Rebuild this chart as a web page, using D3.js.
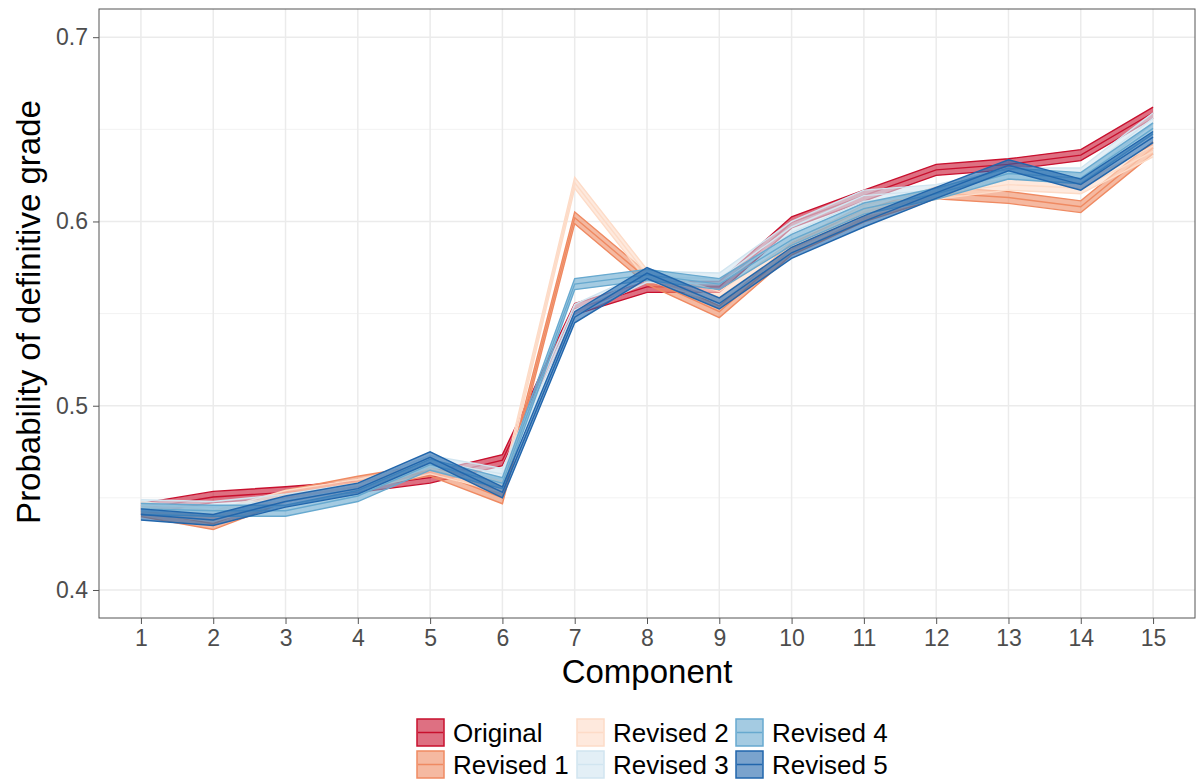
<!DOCTYPE html>
<html lang="en">
<head>
<meta charset="UTF-8">
<title>Probability of definitive grade</title>
<style>
    html, body { margin: 0; padding: 0; background: #fff; }
    text { font-family: "Liberation Sans", Arial, sans-serif; }
</style>
</head>
<body>
<div id="chart"></div>
<script src="https://d3js.org/d3.v7.min.js"></script>
<script>
// components on the x axis
const components = [1, 2, 3, 4, 5, 6, 7, 8, 9, 10, 11, 12, 13, 14, 15];
const seriesNames = ["Original", "Revised 1", "Revised 2", "Revised 3", "Revised 4", "Revised 5"];
const seriesColors = ["#c8102e", "#ef8a62", "#fddbc7", "#d1e5f0", "#67a9cf", "#2166ac"];

// estimated probabilities per component
const original = [0.444, 0.4505, 0.453, 0.456, 0.461, 0.4705, 0.5525, 0.5645, 0.5645, 0.5995, 0.614, 0.628, 0.631, 0.636, 0.659];
const revised1 = [0.443, 0.436, 0.451, 0.4585, 0.465, 0.450, 0.602, 0.569, 0.551, 0.585, 0.603, 0.6155, 0.613, 0.608, 0.640];
const revised2 = [0.445, 0.440, 0.451, 0.457, 0.466, 0.456, 0.621, 0.571, 0.559, 0.586, 0.606, 0.615, 0.620, 0.618, 0.638];
const revised3 = [0.446, 0.445, 0.449, 0.455, 0.470, 0.463, 0.552, 0.570, 0.569, 0.597, 0.614, 0.617, 0.626, 0.626, 0.656];
const revised4 = [0.444, 0.443, 0.443, 0.451, 0.468, 0.458, 0.566, 0.571, 0.566, 0.590, 0.607, 0.615, 0.626, 0.6235, 0.6505];
const revised5 = [0.441, 0.438, 0.448, 0.455, 0.472, 0.453, 0.548, 0.572, 0.5555, 0.583, 0.600, 0.6155, 0.6305, 0.620, 0.6458];
// half width of the band around each line
const halfWidth = [0.003, 0.0032, 0.003, 0.003, 0.003, 0.003];

const yTicks = [0.4, 0.5, 0.6, 0.7];
const yMinor = [0.45, 0.55, 0.65];

const allValues = [original, revised1, revised2, revised3, revised4, revised5];
const series = seriesNames.map((name, i) => ({
    name,
    color: seriesColors[i],
    hw: halfWidth[i],
    points: components.map((c, j) => ({ c, v: allValues[i][j] }))
}));

const W = 1196, H = 781;
const margin = { top: 9, right: 1, bottom: 163, left: 99 };
const width = W - margin.left - margin.right;
const height = H - margin.top - margin.bottom;

const svg = d3.select("#chart").append("svg")
    .attr("width", W).attr("height", H);
const g = svg.append("g").attr("transform", `translate(${margin.left},${margin.top})`);

const x = d3.scaleLinear().domain([0.42, 15.58]).range([0, width]);
const y = d3.scaleLinear().domain([0.3848, 0.7153]).range([height, 0]);

// grid
g.append("g").selectAll("line.minor").data(yMinor).join("line")
    .attr("x1", 0).attr("x2", width)
    .attr("y1", d => y(d)).attr("y2", d => y(d))
    .attr("stroke", "#f2f2f2").attr("stroke-width", 1);
g.append("g").selectAll("line.major").data(yTicks).join("line")
    .attr("x1", 0).attr("x2", width)
    .attr("y1", d => y(d)).attr("y2", d => y(d))
    .attr("stroke", "#ebebeb").attr("stroke-width", 1.5);
g.append("g").selectAll("line.vx").data(components).join("line")
    .attr("x1", d => x(d)).attr("x2", d => x(d))
    .attr("y1", 0).attr("y2", height)
    .attr("stroke", "#ebebeb").attr("stroke-width", 1.5);

// bands and lines
const area = d3.area()
    .x(d => x(d.c))
    .y0(d => y(d.v - d.hw))
    .y1(d => y(d.v + d.hw));
const line = d3.line().x(d => x(d.c)).y(d => y(d.v));

series.forEach(s => {
    const pts = s.points.map(p => ({ c: p.c, v: p.v, hw: s.hw }));
    const layer = g.append("g");
    layer.append("path").datum(pts)
        .attr("d", area)
        .attr("fill", s.color).attr("fill-opacity", 0.6);
    layer.append("path").datum(pts.map(p => ({ c: p.c, v: p.v + p.hw })))
        .attr("d", line).attr("fill", "none")
        .attr("stroke", s.color).attr("stroke-width", 1.4);
    layer.append("path").datum(pts.map(p => ({ c: p.c, v: p.v - p.hw })))
        .attr("d", line).attr("fill", "none")
        .attr("stroke", s.color).attr("stroke-width", 1.4);
    layer.append("path").datum(pts)
        .attr("d", line).attr("fill", "none")
        .attr("stroke", s.color).attr("stroke-width", 1.4);
});

// panel border
g.append("rect").attr("width", width).attr("height", height)
    .attr("fill", "none").attr("stroke", "#555").attr("stroke-width", 1);

// axes
const xAxis = g.append("g").attr("transform", `translate(0,${height})`)
    .call(d3.axisBottom(x).tickValues(components).tickSize(6).tickPadding(6).tickFormat(d3.format("d")));
const yAxis = g.append("g")
    .call(d3.axisLeft(y).tickValues(yTicks).tickSize(6).tickPadding(5).tickFormat(d3.format(".1f")));
[xAxis, yAxis].forEach(a => {
    a.select(".domain").remove();
    a.selectAll(".tick line").attr("stroke", "#555");
    a.selectAll(".tick text").attr("fill", "#4d4d4d")
        .style("font-size", "23px");
});

// axis titles
svg.append("text")
    .attr("x", margin.left + width / 2).attr("y", 683)
    .attr("text-anchor", "middle")
    .style("font-size", "33px").attr("fill", "#000")
    .text("Component");
svg.append("text")
    .attr("transform", `translate(40,312) rotate(-90)`)
    .attr("text-anchor", "middle")
    .style("font-size", "33px").attr("fill", "#000")
    .text("Probability of definitive grade");

// legend: filled by column, 2 rows
const legendCols = [416, 576, 735];
const legendRows = [718, 750];
const keySize = 29;
const legend = svg.append("g");
series.forEach((s, i) => {
    const col = Math.floor(i / 2), row = i % 2;
    const lx = legendCols[col], ly = legendRows[row];
    const item = legend.append("g").attr("transform", `translate(${lx},${ly})`);
    item.append("rect")
        .attr("x", 1).attr("y", 1)
        .attr("width", keySize - 2).attr("height", keySize - 2)
        .attr("fill", s.color).attr("fill-opacity", 0.6)
        .attr("stroke", s.color).attr("stroke-width", 1.5);
    item.append("line")
        .attr("x1", 2).attr("x2", keySize - 2)
        .attr("y1", keySize / 2).attr("y2", keySize / 2)
        .attr("stroke", s.color).attr("stroke-width", 1.5);
    item.append("text")
        .attr("x", keySize + 8).attr("y", keySize / 2 + 9)
        .style("font-size", "26px").attr("fill", "#000")
        .text(s.name);
});
</script>
</body>
</html>
